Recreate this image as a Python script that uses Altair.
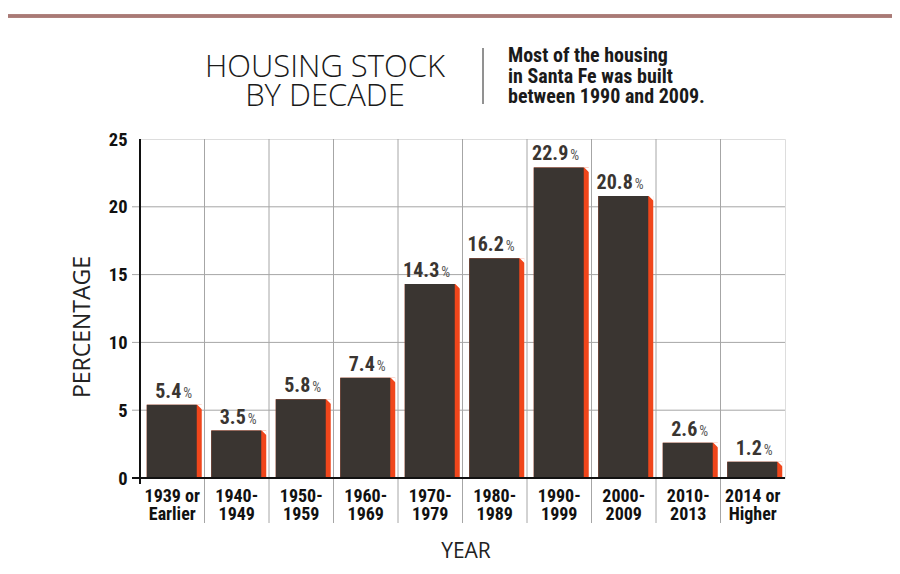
import altair as alt
import pandas as pd

categories = ["1939 or|Earlier", "1940-|1949", "1950-|1959", "1960-|1969", "1970-|1979",
              "1980-|1989", "1990-|1999", "2000-|2009", "2010-|2013", "2014 or|Higher"]
values = [5.4, 3.5, 5.8, 7.4, 14.3, 16.2, 22.9, 20.8, 2.6, 1.2]
y_ticks = [0, 5, 10, 15, 20, 25]
h_grid = [5, 10, 15, 20]

W, H = 645, 339
BAND = W / len(categories)
DARK = "#3a3531"
ORANGE = "#f0461b"
GRID = "#a6a6a6"
COND = "'Roboto Condensed', 'Liberation Sans Narrow', 'DejaVu Sans Condensed', 'Arial Narrow', Roboto"

df = pd.DataFrame({"cat": categories, "val": values,
                   "num": [f"{v:.1f}" for v in values]})
grid_df = pd.DataFrame({"g": h_grid})
vgrid_df = pd.DataFrame({"cat": categories[1:]})

xscale = alt.Scale(domain=categories, paddingInner=0, paddingOuter=0)
yscale = alt.Scale(domain=[0, 25], nice=False)

x_enc = alt.X("cat:N", scale=xscale, sort=categories, title=None,
              axis=alt.Axis(labelExpr="split(datum.label, '|')", labelAngle=0,
                            labelAlign="center", bandPosition=0.5,
                            labelFont=COND, labelFontWeight="bold", labelFontSize=18,
                            labelColor="#111", labelLineHeight=18.5, labelPadding=18,
                            labelOverlap=False,
                            domain=False, ticks=False, grid=False))
y_enc = alt.Y("val:Q", scale=yscale, title=None,
              axis=alt.Axis(values=y_ticks, labelFont=COND, labelFontWeight="bold",
                            labelFontSize=18.5, labelColor="#111", labelPadding=13,
                            domain=False, ticks=False, grid=False))

base = alt.Chart(df)
X = alt.X("cat:N", scale=xscale, sort=categories)
Y = alt.Y("val:Q", scale=yscale)

hgrid = alt.Chart(grid_df).mark_rule(color=GRID, strokeWidth=1).encode(
    y=alt.Y("g:Q", scale=yscale), x=alt.value(-8), x2=alt.value(W))

vgrid = alt.Chart(vgrid_df).mark_rule(color=GRID, strokeWidth=1, xOffset=-BAND / 2).encode(
    x=X, y=alt.value(0), y2=alt.value(384))

orange = base.mark_bar(color=ORANGE, size=55, xOffset=2).encode(x=x_enc, y=y_enc)

bevel = base.mark_point(shape="M-1,-1 L1,-1 L1,1 Z", size=25, filled=True, opacity=1,
                        color="white", strokeWidth=0, xOffset=27.5, yOffset=2.5).encode(x=X, y=Y)

dark = base.mark_bar(color=DARK, size=50, xOffset=-0.5).encode(x=X, y=Y)

num_text = base.mark_text(font=COND, fontWeight="bold", fontSize=20, color=DARK,
                          align="right", baseline="alphabetic", dx=9, dy=-7).encode(
    x=X, y=Y, text="num:N")

pct_text = base.mark_text(font=COND, fontSize=14, color="#555", align="left",
                          baseline="alphabetic", dx=11, dy=-7).encode(
    x=X, y=Y, text=alt.value("%"))

xaxis_line = alt.Chart(grid_df).mark_rule(color="#111", strokeWidth=2).encode(
    x=alt.value(-8), x2=alt.value(W), y=alt.value(H))
yaxis_line = alt.Chart(grid_df).mark_rule(color="#111", strokeWidth=2).encode(
    x=alt.value(0), y=alt.value(0), y2=alt.value(H + 6))

def label(text, x, y, **kw):
    return alt.Chart(pd.DataFrame({"t": [text]})).mark_text(**kw).encode(
        text="t:N", x=alt.value(x), y=alt.value(y))

ytitle = label("PERCENTAGE", -50, 188, font="Open Sans", fontWeight=400, fontSize=23,
               color="#222", angle=270, align="center", baseline="alphabetic")
xtitle = label("YEAR", 326, 419, font="Open Sans", fontWeight=400, fontSize=21,
               color="#222", align="center", baseline="alphabetic")

t1 = label("HOUSING STOCK", 185, -62, font="Open Sans", fontWeight=300, fontSize=31,
           color="#1a1a1a", align="center", baseline="alphabetic")
t2 = label("BY DECADE", 185, -33, font="Open Sans", fontWeight=300, fontSize=31,
           color="#1a1a1a", align="center", baseline="alphabetic")

sub_lines = ["Most of the housing", "in Santa Fe was built", "between 1990 and 2009."]
subs = [label(s, 368, yy, font=COND, fontWeight="bold", fontSize=20, color="#1a1a1a",
              align="left", baseline="alphabetic")
        for s, yy in zip(sub_lines, [-77, -56, -36])]

sep = alt.Chart(grid_df).mark_rule(color="#8a8a8a", strokeWidth=1).encode(
    x=alt.value(343), y=alt.value(-91), y2=alt.value(-35))
top_rule = alt.Chart(grid_df).mark_rule(color="#a97a76", strokeWidth=3).encode(
    x=alt.value(-132), x2=alt.value(W + 107), y=alt.value(-123))

chart = alt.layer(
    hgrid, vgrid, orange, bevel, dark, num_text, pct_text, xaxis_line, yaxis_line,
    ytitle, xtitle, t1, t2, *subs, sep, top_rule
).properties(
    width=W, height=H,
    autosize=alt.AutoSizeParams(type="none"),
    padding={"left": 132, "top": 131, "right": 107, "bottom": 88},
).configure_view(stroke=None).configure(background="white")

chart.save("out.html", embed_options={"renderer": "svg", "actions": False})
